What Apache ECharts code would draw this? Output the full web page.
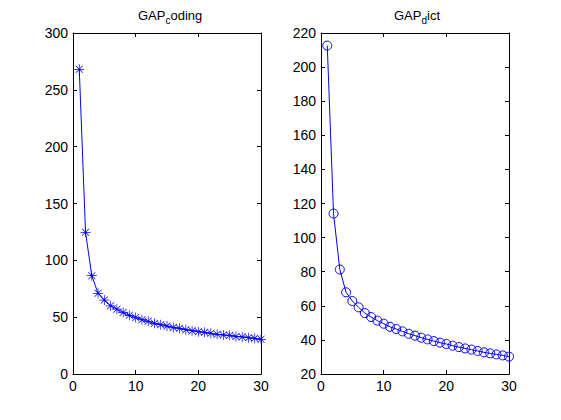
<!DOCTYPE html>
<html>
<head>
<meta charset="utf-8">
<title>GAP</title>
<script src="https://cdn.jsdelivr.net/npm/echarts@6/dist/echarts.min.js"></script>
<style>
  html, body { margin: 0; padding: 0; background: #fff; }
  #chart { width: 561px; height: 420px; }
</style>
</head>
<body>
<div id="chart"></div>
<script>
// iteration index shared by both panels
var iters = [1, 2, 3, 4, 5, 6, 7, 8, 9, 10, 11, 12, 13, 14, 15,
             16, 17, 18, 19, 20, 21, 22, 23, 24, 25, 26, 27, 28, 29, 30];

// left panel: GAP_coding
var gapCoding = [268, 124.6, 86.5, 71, 65, 60, 57, 54, 51.6, 49.6,
                 47.8, 46.3, 44.6, 43.4, 42.2, 41, 40.2, 39, 38.1, 37.2,
                 36.7, 35.8, 34.9, 34.3, 34, 33.1, 32.6, 32, 31.4, 30.5];

// right panel: GAP_dict
var gapDict = [212.6, 114.1, 81.3, 67.9, 62.8, 59.1, 55.7, 53.4, 51.3, 49.5,
               47.7, 46.4, 45, 43.6, 42.5, 41.3, 40.3, 39.3, 38.4, 37.6,
               36.6, 35.8, 35, 34.3, 33.5, 32.7, 32.1, 31.5, 30.9, 30.2];

var xTicks = { min: 0, max: 30, interval: 10 };
var yTicksLeft = { min: 0, max: 300, interval: 50 };
var yTicksRight = { min: 20, max: 220, interval: 20 };

var blue = '#0000ff';
var ink = '#000';
var tickFont = { color: ink, fontSize: 14, fontFamily: '"Liberation Sans Narrow", "Liberation Sans", Arial, sans-serif' };

// asterisk marker made of four thin bars
var starPath = 'path://M0,9.3L20,9.3L20,10.7L0,10.7Z' +
  'M9.3,0L10.7,0L10.7,20L9.3,20Z' +
  'M3.5,2.5L17.5,16.5L16.5,17.5L2.5,3.5Z' +
  'M16.5,2.5L17.5,3.5L3.5,17.5L2.5,16.5Z';

function pairs(xs, ys) {
  return xs.map(function(x, i) { return [x, ys[i]]; });
}

function xAxisFor(grid, pos, labels) {
  return {
    type: 'value', gridIndex: grid, position: pos,
    min: xTicks.min, max: xTicks.max, interval: xTicks.interval,
    axisLine: { show: true, onZero: false, lineStyle: { color: ink, width: 1 } },
    axisTick: { show: true, inside: true, length: 4, lineStyle: { color: ink } },
    axisLabel: labels ? Object.assign({ show: true, margin: 5 }, tickFont) : { show: false },
    splitLine: { show: false }
  };
}

function yAxisFor(grid, pos, ticks, labels) {
  return {
    type: 'value', gridIndex: grid, position: pos,
    min: ticks.min, max: ticks.max, interval: ticks.interval,
    axisLine: { show: true, onZero: false, lineStyle: { color: ink, width: 1 } },
    axisTick: { show: true, inside: true, length: 4, lineStyle: { color: ink } },
    axisLabel: labels ? Object.assign({ show: true, margin: 5 }, tickFont) : { show: false },
    splitLine: { show: false }
  };
}

function titleFor(left, main, sub, rest) {
  var fam = '"Liberation Sans", Arial, sans-serif';
  return {
    left: left, top: 4,
    text: '{n|' + main + '}{s|' + sub + '}{n|' + rest + '}',
    textStyle: {
      fontWeight: 'normal',
      rich: {
        n: { fontSize: 13, fontWeight: 'normal', color: ink, fontFamily: fam, verticalAlign: 'top', lineHeight: 15 },
        s: { fontSize: 10, fontWeight: 'normal', color: ink, fontFamily: fam, verticalAlign: 'top', lineHeight: 12, padding: [6, 0, 0, 0] }
      }
    }
  };
}

var chart = echarts.init(document.getElementById('chart'), null, { renderer: 'svg' });
chart.setOption({
  animation: false,
  backgroundColor: '#fff',
  title: [
    titleFor(133, 'GAP', 'c', 'oding'),
    titleFor(389, 'GAP', 'd', 'ict')
  ],
  grid: [
    { left: 73, right: 300, top: 33, bottom: 46 },
    { left: 321, right: 52, top: 33, bottom: 46 }
  ],
  xAxis: [
    xAxisFor(0, 'bottom', true),
    xAxisFor(0, 'top', false),
    xAxisFor(1, 'bottom', true),
    xAxisFor(1, 'top', false)
  ],
  yAxis: [
    yAxisFor(0, 'left', yTicksLeft, true),
    yAxisFor(0, 'right', yTicksLeft, false),
    yAxisFor(1, 'left', yTicksRight, true),
    yAxisFor(1, 'right', yTicksRight, false)
  ],
  series: [
    {
      name: 'GAP_coding', type: 'line',
      xAxisIndex: 0, yAxisIndex: 0,
      data: pairs(iters, gapCoding),
      symbol: starPath, symbolSize: 10, showAllSymbol: true,
      lineStyle: { color: blue, width: 1 },
      itemStyle: { color: blue, borderWidth: 0 }
    },
    {
      name: 'GAP_dict', type: 'line',
      xAxisIndex: 2, yAxisIndex: 2,
      data: pairs(iters, gapDict),
      symbol: 'circle', symbolSize: 9, showAllSymbol: true,
      lineStyle: { color: blue, width: 1 },
      itemStyle: { color: 'transparent', borderColor: blue, borderWidth: 1 }
    }
  ]
});
window.addEventListener('resize', function() { chart.resize(); });
</script>
</body>
</html>
